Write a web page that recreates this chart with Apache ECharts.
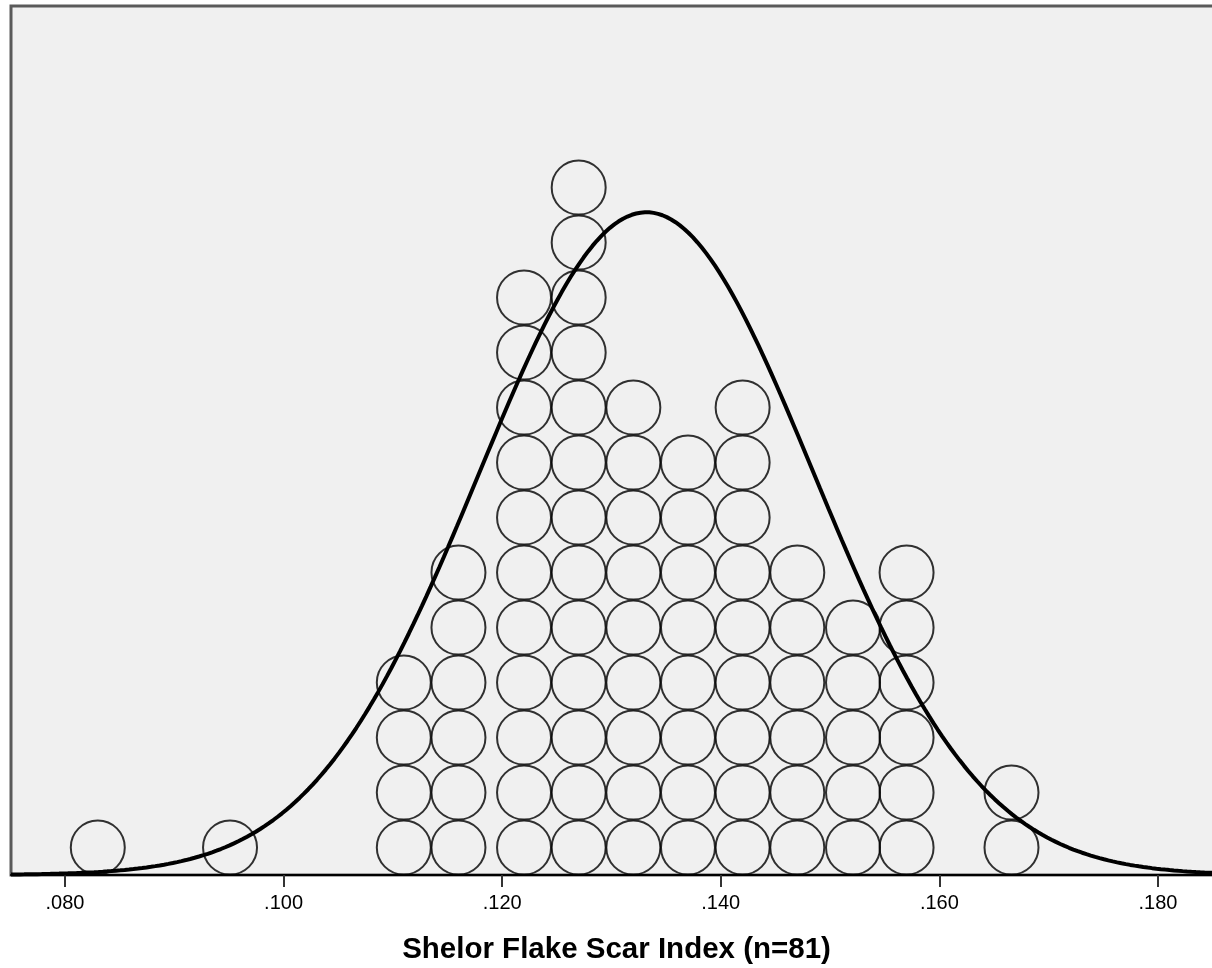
<!DOCTYPE html>
<html>
<head>
<meta charset="utf-8">
<script src="https://cdn.jsdelivr.net/npm/echarts@6/dist/echarts.min.js"></script>
<style>
html,body{margin:0;padding:0;background:#fff;}
#chart{width:1212px;height:968px;}
</style>
</head>
<body>
<div id="chart"></div>
<script>
// Dot positions (Shelor Flake Scar Index) and number of stacked dots at each
const dotX = [0.0830, 0.0951, 0.1110, 0.1160, 0.1220, 0.1270, 0.1320, 0.1370, 0.1420, 0.1470, 0.1521, 0.1570, 0.1666];
const dotCounts = [1, 1, 4, 6, 11, 13, 9, 8, 9, 6, 5, 6, 2];
const tickValues = [0.08, 0.10, 0.12, 0.14, 0.16, 0.18];
const axisTitle = 'Shelor Flake Scar Index (n=81)';
// Fitted normal curve parameters
const curveMean = 0.1332;
const curveSD = 0.0153;
const curvePeak = 12.05; // in dot-row units

const xMin = 0.07506, xMax = 0.18586, yMax = 15.8;

const dots = [];
dotX.forEach((x, i) => {
  for (let k = 0; k < dotCounts[i]; k++) dots.push([x, k + 0.5]);
});

const curve = [];
for (let x = xMin; x <= xMax + 1e-9; x += 0.0004) {
  const z = (x - curveMean) / curveSD;
  curve.push([x, curvePeak * Math.exp(-0.5 * z * z)]);
}

const chart = echarts.init(document.getElementById('chart'), null, {renderer: 'canvas'});
chart.setOption({
  animation: false,
  backgroundColor: '#ffffff',
  grid: {
    left: 11, top: 6, right: -10, bottom: 93,
    containLabel: false, outerBoundsMode: 'none',
    show: true, backgroundColor: '#F0F0F0', borderColor: '#5a5a5a', borderWidth: 3
  },
  xAxis: {
    type: 'value', min: xMin, max: xMax,
    name: axisTitle, nameLocation: 'middle', nameGap: 60,
    nameTextStyle: {fontFamily: 'Liberation Sans', fontWeight: 'bold', fontSize: 29.5, color: '#000'},
    axisLine: {show: true, onZero: false, lineStyle: {color: '#000', width: 2}},
    axisTick: {show: true, customValues: tickValues, length: 12, lineStyle: {color: '#333', width: 2}},
    axisLabel: {
      customValues: tickValues, margin: 18,
      fontFamily: 'Liberation Sans', fontSize: 20, color: '#000',
      formatter: v => v.toFixed(3).replace(/^0/, '')
    },
    splitLine: {show: false}
  },
  yAxis: {
    type: 'value', min: 0, max: yMax, show: false, splitLine: {show: false}
  },
  series: [
    {
      type: 'scatter', data: dots, symbol: 'circle', symbolSize: 54,
      itemStyle: {color: 'rgba(0,0,0,0)', borderColor: '#000', borderWidth: 2},
      silent: true, z: 2
    },
    {
      type: 'line', data: curve, showSymbol: false, smooth: false, clip: true,
      lineStyle: {color: '#000', width: 4}, silent: true, z: 3
    }
  ]
});
</script>
</body>
</html>
